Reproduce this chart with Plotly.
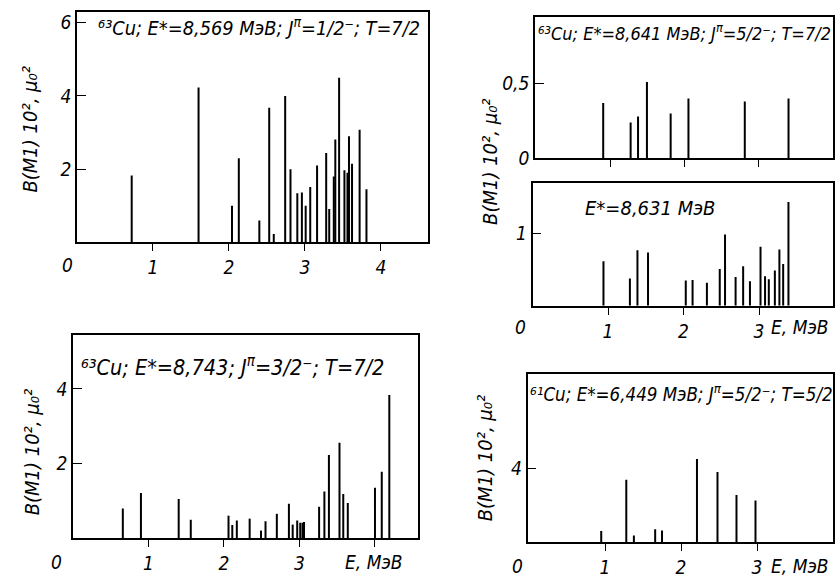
import plotly.graph_objects as go

W, H = 836, 587

# ---------------- data ----------------
# Panel A: 63Cu, E*=8.569 MeV, J=1/2-, T=7/2
e_a = [0.72, 1.60, 2.04, 2.13, 2.40, 2.53, 2.59, 2.74, 2.81, 2.90, 2.96, 3.01, 3.07, 3.16,
       3.28, 3.32, 3.38, 3.40, 3.45, 3.52, 3.56, 3.58, 3.62, 3.72, 3.81]
b_a = [1.83, 4.23, 1.00, 2.30, 0.60, 3.68, 0.23, 4.00, 2.00, 1.34, 1.36, 1.00, 1.51, 2.10,
       2.44, 0.91, 1.80, 2.81, 4.50, 1.97, 1.90, 2.90, 2.15, 3.08, 1.45]

# Panel B: 63Cu, E*=8.641 MeV, J=5/2-, T=7/2
e_b = [0.90, 1.27, 1.37, 1.49, 1.81, 2.05, 2.81, 3.40]
b_b = [0.37, 0.24, 0.28, 0.51, 0.30, 0.40, 0.38, 0.40]

# Panel C: E*=8.631 MeV
e_c = [0.94, 1.29, 1.39, 1.53, 2.03, 2.12, 2.31, 2.48, 2.55, 2.69, 2.79, 2.88, 3.02, 3.08,
       3.13, 3.21, 3.27, 3.32, 3.39]
b_c = [0.62, 0.38, 0.77, 0.74, 0.35, 0.36, 0.32, 0.51, 0.99, 0.40, 0.55, 0.34, 0.82, 0.41,
       0.37, 0.49, 0.78, 0.58, 1.44]

# Panel D: 63Cu, E*=8.743, J=3/2-, T=7/2
e_d = [0.66, 0.90, 1.40, 1.56, 2.06, 2.11, 2.17, 2.34, 2.49, 2.55, 2.70, 2.86, 2.91, 2.97,
       3.01, 3.04, 3.06, 3.26, 3.33, 3.39, 3.53, 3.58, 3.64, 4.00, 4.09, 4.19]
b_d = [0.79, 1.21, 1.05, 0.49, 0.60, 0.35, 0.47, 0.52, 0.20, 0.45, 0.65, 0.92, 0.36, 0.47,
       0.41, 0.41, 0.43, 0.84, 1.25, 2.23, 2.56, 1.18, 0.94, 1.35, 1.78, 3.84]

# Panel E: 61Cu, E*=6.449 MeV, J=5/2-, T=5/2
e_e = [0.95, 1.28, 1.38, 1.66, 1.75, 2.21, 2.48, 2.73, 2.98]
b_e = [0.62, 3.40, 0.37, 0.71, 0.64, 4.53, 3.82, 2.58, 2.28]

FONT = "Liberation Sans Narrow, DejaVu Sans Condensed, Liberation Sans, sans-serif"


def tf(size):
    return dict(family=FONT, size=size, color="black", style="italic")


TICKF = tf(19)


def px(x):
    return x / W


def py(y):
    return 1 - y / H


panels = [
    dict(x=(77, 428), y=(12, 247), xr=[0, 4.62], yr=[0, 6.3], e=e_a, b=b_a,
         xt=[1, 2, 3, 4], xtt=["1", "2", "3", "4"], yt=[2, 4, 6], ytt=["2", "4", "6"]),
    dict(x=(535, 833), y=(17, 161.5), xr=[-0.02, 4.0], yr=[0, 0.945], e=e_b, b=b_b,
         xt=[1, 2, 3], xtt=None, yt=[0, 0.5], ytt=["0", "0,5"]),
    dict(x=(532.5, 833), y=(186, 311.7), xr=[0, 3.98], yr=[0, 1.71], e=e_c, b=b_c,
         xt=[1, 2, 3], xtt=["1", "2", "3"], yt=[1], ytt=["1"]),
    dict(x=(73, 418), y=(341.7, 548.3), xr=[0, 4.57], yr=[0, 5.44], e=e_d, b=b_d,
         xt=[1, 2, 3, 4], xtt=["1", "2", "3", " "], yt=[2, 4], ytt=["2", "4"]),
    dict(x=(527.5, 833), y=(381, 552.7), xr=[-0.02, 4.0], yr=[0, 9.16], e=e_e, b=b_e,
         xt=[1, 2, 3], xtt=["1", "2", "3"], yt=[4], ytt=["4"]),
]

fig = go.Figure()
layout = {}
for i, p in enumerate(panels):
    n = "" if i == 0 else str(i + 1)
    xa, ya = "x" + n, "y" + n
    xs, ys = [], []
    for e, b in zip(p["e"], p["b"]):
        xs += [e, e, None]
        ys += [0, b, None]
    fig.add_trace(go.Scatter(x=xs, y=ys, mode="lines", line=dict(color="black", width=2),
                             xaxis=xa, yaxis=ya, showlegend=False, hoverinfo="skip"))
    xaxis = dict(domain=[px(p["x"][0]), px(p["x"][1])], anchor=ya, range=p["xr"],
                 showline=True, mirror=True, linecolor="black", linewidth=1.7,
                 ticks="outside", ticklen=7, tickwidth=1.3, tickcolor="black",
                 tickvals=p["xt"], tickfont=TICKF,
                 showgrid=False, zeroline=False, fixedrange=True)
    if p["xtt"] is None:
        xaxis["showticklabels"] = False
    else:
        xaxis["ticktext"] = p["xtt"]
    layout["xaxis" + n] = xaxis
    layout["yaxis" + n] = dict(domain=[py(p["y"][1]), py(p["y"][0])], anchor=xa, range=p["yr"],
                               showline=True, mirror=True, linecolor="black", linewidth=1.7,
                               ticks="inside", ticklen=9, tickwidth=1.3, tickcolor="black",
                               tickvals=p["yt"], ticktext=p["ytt"], tickfont=TICKF,
                               showgrid=False, zeroline=False, fixedrange=True)


def ann(text, x, y, size, xanchor="center", angle=0):
    return dict(text=text, x=px(x), y=py(y), xref="paper", yref="paper", xanchor=xanchor,
                yanchor="middle", showarrow=False, textangle=angle, font=tf(size))


YT = "B(M1) 10², μ₀²"
annotations = [
    ann("⁶³Cu; E*=8,569 МэВ; J<sup>π</sup>=1/2⁻; T=7/2", 96, 28, 19.8, "left"),
    ann("⁶³Cu; E*=8,641 МэВ; J<sup>π</sup>=5/2⁻; T=7/2", 536, 33, 18, "left"),
    ann("E*=8,631 МэВ", 583, 212, 20, "left"),
    ann("⁶³Cu; E*=8,743; J<sup>π</sup>=3/2⁻; T=7/2", 79, 373, 21.5, "left"),
    ann("⁶¹Cu; E*=6,449 МэВ; J<sup>π</sup>=5/2⁻; T=5/2", 528, 401, 18.6, "left"),
    ann(YT, 30, 132, 20, angle=-90),
    ann(YT, 490, 165, 20, angle=-90),
    ann(YT, 32, 461, 20, angle=-90),
    ann(YT, 485, 467, 20, angle=-90),
    ann("0", 67, 270, 19),
    ann("0", 57, 573, 19),
    ann("0", 520, 333, 19),
    ann("0", 517, 577, 19),
    ann("E, МэВ", 374, 573, 19),
    ann("E, МэВ", 769, 333, 19, "left"),
    ann("E, МэВ", 769, 577, 19, "left"),
]

fig.update_layout(**layout)
fig.update_layout(width=W, height=H, margin=dict(l=0, r=0, t=0, b=0),
                  paper_bgcolor="white", plot_bgcolor="white",
                  font=dict(family=FONT, color="black", size=19), annotations=annotations)

fig.write_html("out.html")
